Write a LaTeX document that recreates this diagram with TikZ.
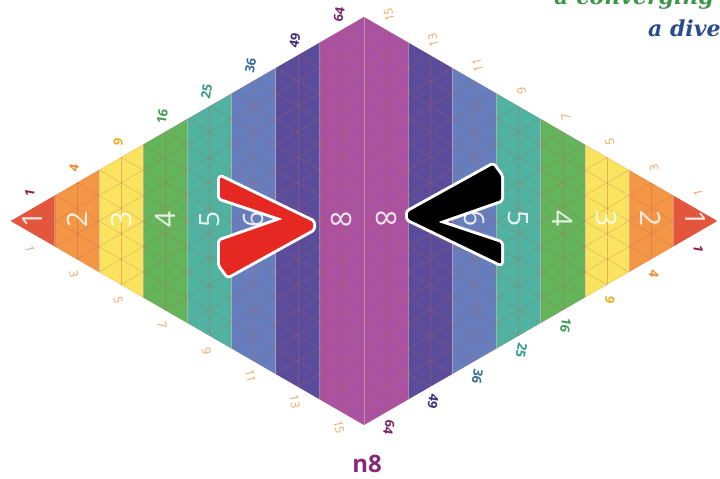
\documentclass[tikz,border=0pt]{standalone}
\usepackage{fontspec}
\setsansfont{Open Sans}
\newfontfamily\headfont{DejaVu Serif}
\usetikzlibrary{calc}

% stripe colours
\definecolor{sRed}{RGB}{228,86,60}
\definecolor{sOrange}{RGB}{243,150,70}
\definecolor{sYellow}{RGB}{250,228,95}
\definecolor{sGreen}{RGB}{100,180,92}
\definecolor{sTeal}{RGB}{80,178,160}
\definecolor{sBlue}{RGB}{102,125,190}
\definecolor{sIndigo}{RGB}{90,76,155}
\definecolor{sPurple}{RGB}{170,82,160}
% label colours
\definecolor{lOne}{RGB}{142,31,78}
\definecolor{lFour}{RGB}{240,138,48}
\definecolor{lNine}{RGB}{236,172,32}
\definecolor{lSixteen}{RGB}{60,154,80}
\definecolor{lTwentyfive}{RGB}{46,154,136}
\definecolor{lThirtysix}{RGB}{58,106,158}
\definecolor{lFortynine}{RGB}{59,45,122}
\definecolor{lSixtyfour}{RGB}{122,36,104}
\definecolor{lOdd}{RGB}{240,165,100}
\definecolor{gridCol}{RGB}{190,100,80}
\definecolor{vRed}{RGB}{230,40,35}
\definecolor{nPurple}{RGB}{138,40,120}
\definecolor{hGreen}{RGB}{60,150,70}
\definecolor{hBlue}{RGB}{43,75,142}

\begin{document}
\begin{tikzpicture}[x=1pt, y=1pt,
    stripenum/.style={font=\sffamily\fontsize{28}{28}\selectfont, text=white, text opacity=0.85},
    sqlabel/.style={font=\sffamily\bfseries\fontsize{13}{13}\selectfont, inner sep=1pt},
    oddlabel/.style={font=\sffamily\fontsize{12}{12}\selectfont, text=lOdd, inner sep=1pt},
    gridline/.style={draw=gridCol, line width=0.45pt, opacity=0.4},
    signrim/.style={draw=white, line width=6pt, line join=round},
    headline/.style={font=\headfont\bfseries\itshape\fontsize{22}{22}\selectfont, inner sep=0pt}]

    \useasboundingbox (0,0) rectangle (720,479);

    % Define the rhombus
    \def\rL{10.7}
    \def\rR{717.3}
    \def\cy{258}
    \def\w{44.17}
    \def\s{51}
    \coordinate (L) at (\rL,\cy);
    \coordinate (T) at (364,462);
    \coordinate (R) at (\rR,\cy);
    \coordinate (B) at (364,54);

    % Stripes and triangle grid
    \begin{scope}
        \clip (L) -- (T) -- (R) -- (B) -- cycle;
        \foreach \k/\col in {1/sRed,2/sOrange,3/sYellow,4/sGreen,5/sTeal,6/sBlue,7/sIndigo,8/sPurple} {
            \fill[\col] ({\rL+(\k-1)*\w},40) rectangle ({\rL+\k*\w+0.3},470);
            \fill[\col] ({\rR-(\k-1)*\w},40) rectangle ({\rR-\k*\w-0.3},470);
        }
        \foreach \i in {-32,...,16}
            \draw[gridline] (\rL,{\cy+\i*\s/2}) -- (\rR,{\cy+\i*\s/2+8*\s});
        \foreach \i in {-16,...,32}
            \draw[gridline] (\rL,{\cy+\i*\s/2}) -- (\rR,{\cy+\i*\s/2-8*\s});
        \foreach \j in {1,...,31}
            \draw[gridline] ({\rL+\j*\w/2},40) -- ({\rL+\j*\w/2},470);
        \foreach \j in {1,...,15}
            \draw[white, opacity=0.3, line width=0.8pt] ({\rL+\j*\w},40) -- ({\rL+\j*\w},470);
    \end{scope}

    % Numbers in the stripes
    \foreach \k in {1,2,3,4,5,6,8} {
        \node[stripenum, rotate=90] (numL\k) at ({\rL+(\k-0.5)*\w},260) {\k};
        \node[stripenum, rotate=-90] (numR\k) at ({\rR-(\k-0.5)*\w},260) {\k};
    }

    % Edge labels
    \foreach \k/\sq/\od/\col in {1/1/1/lOne, 2/4/3/lFour, 3/9/5/lNine, 4/16/7/lSixteen,
            5/25/9/lTwentyfive, 6/36/11/lThirtysix, 7/49/13/lFortynine, 8/64/15/lSixtyfour} {
        \node[sqlabel, text=\col, rotate=80] (tl\k) at ({\rL+(\k-0.5)*\w-3},{\cy+(\k-0.5)*\s/2+15}) {\sq};
        \node[oddlabel, rotate=-80] (bl\k) at ({\rL+(\k-0.5)*\w-3},{\cy-(\k-0.5)*\s/2-15}) {\od};
        \node[oddlabel, rotate=100] (tr\k) at ({\rR-(\k-0.5)*\w+3},{\cy+(\k-0.5)*\s/2+15}) {\od};
        \node[sqlabel, text=\col, rotate=-100] (br\k) at ({\rR-(\k-0.5)*\w+3},{\cy-(\k-0.5)*\s/2-15}) {\sq};
    }

    % Comparison signs with white rim
    \draw[signrim, fill=vRed, rounded corners=1.5pt] (313,250) -- (228,203) -- (220,214) -- (220,238)
        -- (283,260) -- (220,281) -- (220,302) -- (313,257) -- cycle;
    \fill[vRed, rounded corners=1.5pt] (313,250) -- (228,203) -- (220,214) -- (220,238)
        -- (283,260) -- (220,281) -- (220,302) -- (313,257) -- cycle;
    \draw[signrim, fill=black, rounded corners=1.5pt] (408,267) -- (493,314) -- (501,303) -- (501,279)
        -- (438,257) -- (501,236) -- (501,215) -- (408,260) -- cycle;
    \fill[black, rounded corners=1.5pt] (408,267) -- (493,314) -- (501,303) -- (501,279)
        -- (438,257) -- (501,236) -- (501,215) -- (408,260) -- cycle;

    % Name and heading
    \node[font=\sffamily\bfseries\fontsize{24}{24}\selectfont, text=nPurple] (name) at (367,15) {n8};
    \node[headline, text=hGreen, anchor=base east] (headA) at (714,474) {a converging};
    \node[headline, text=hBlue, anchor=base west] (headB) at (648,442) {a dive};

\end{tikzpicture}
\end{document}
